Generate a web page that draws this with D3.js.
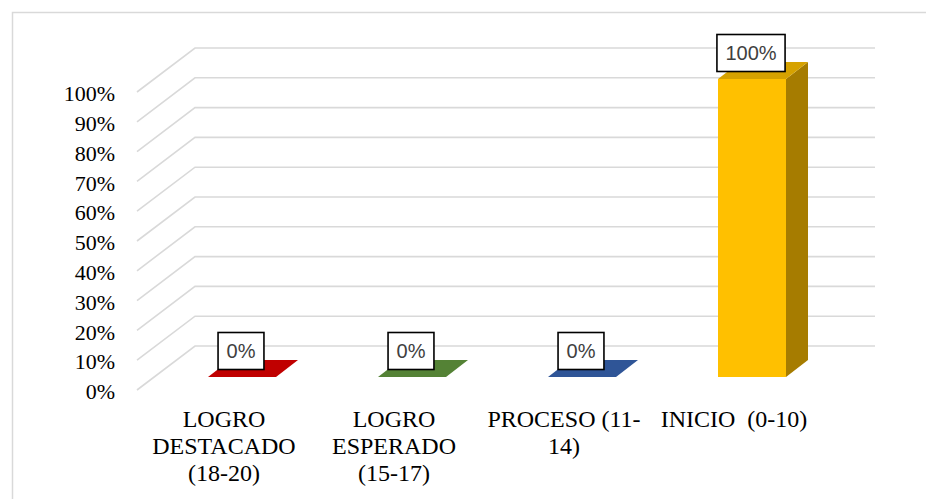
<!DOCTYPE html>
<html>
<head>
<meta charset="utf-8">
<script src="https://cdn.jsdelivr.net/npm/d3@7"></script>
</head>
<body style="margin:0">
<svg id="chart" width="926" height="499"></svg>
<script>
// Nivel de logro: porcentaje de estudiantes por categoría
const categories = ["LOGRO DESTACADO (18-20)", "LOGRO ESPERADO (15-17)", "PROCESO (11-14)", "INICIO  (0-10)"];
const categoryLines = [["LOGRO", "DESTACADO", "(18-20)"], ["LOGRO", "ESPERADO", "(15-17)"], ["PROCESO (11-", "14)"], ["INICIO\u00a0\u00a0(0-10)"]];
const values = [0, 0, 0, 1];
const valueLabels = ["0%", "0%", "0%", "100%"];
const yTicks = [0, 0.1, 0.2, 0.3, 0.4, 0.5, 0.6, 0.7, 0.8, 0.9, 1];

// colours for the front, side and top faces of each column
const frontColors = ["#c00000", "#548235", "#2f5597", "#ffc000"];
const sideColors = ["#8f0000", "#3e6127", "#233f70", "#a67c00"];
const topColors = ["#c00000", "#548235", "#2f5597", "#d6a200"];

const SERIF = '"Liberation Serif", Tinos, "Times New Roman", Times, FreeSerif';
const SANS = '"Liberation Sans", Arimo, Arial';

// advance widths (em) of the sans face, for sizing label boxes without a layout pass
const sansAdvance = ch => (ch === "%" ? 0.889 : 0.556);
const labelWidth = (s, size) => Array.from(s).reduce((w, ch) => w + sansAdvance(ch) * size, 0);

const svg = d3.select("#chart");

// outer chart frame
svg.append("rect")
  .attr("x", 12.5).attr("y", 12.5)
  .attr("width", 940).attr("height", 520)
  .attr("fill", "none").attr("stroke", "#d9d9d9").attr("stroke-width", 1.5);

// 3D projection: back wall values, floor depth offset, column plane offset
const yBack = d3.scaleLinear().domain([0, 1]).range([346, 48]);
const depth = { dx: 58, dy: 44 };          // floor front -> back wall
const barPlane = { dx: 20, dy: 13 };       // floor front -> column front face
const barDepth = { dx: 22, dy: 17 };       // column thickness
const floorX = d3.scaleBand().domain(categories).range([137, 817]).paddingInner(0.6).paddingOuter(0.3);
const wallRight = 875;

const frontY = v => yBack(v) + depth.dy;
const barY = v => yBack(v) + depth.dy - barPlane.dy;

// gridlines: side wall diagonal and back wall horizontal
const grid = svg.append("g");
yTicks.forEach(t => {
  const fy = frontY(t), by = yBack(t);
  const x0 = floorX.range()[0];
  grid.append("path")
    .attr("d", `M${x0},${fy}L${x0 + depth.dx},${by}L${wallRight},${by}`)
    .attr("fill", "none").attr("stroke", "#d9d9d9").attr("stroke-width", 1.6);
});

// y axis labels
const yAxis = d3.axisLeft(d3.scaleLinear().domain([0, 1]).range([frontY(0), frontY(1)]))
  .tickValues(yTicks).tickFormat(d3.format(".0%")).tickSize(0).tickPadding(0);
const yg = svg.append("g").attr("transform", "translate(115,1)").call(yAxis);
yg.attr("font-family", SERIF).attr("font-size", 22);
yg.select(".domain").remove();
yg.selectAll("text").attr("fill", "#000").attr("dy", "0.35em");

// columns
const bars = svg.append("g");
categories.forEach((c, i) => {
  const x0 = floorX(c) + barPlane.dx, x1 = x0 + floorX.bandwidth();
  const yb = barY(0), yt = barY(values[i]);
  const { dx, dy } = barDepth;
  const g = bars.append("g");
  if (yb - yt > 0) {
    g.append("path").attr("d", `M${x1},${yb}L${x1 + dx},${yb - dy}L${x1 + dx},${yt - dy}L${x1},${yt}Z`).attr("fill", sideColors[i]);
    g.append("rect").attr("x", x0).attr("y", yt).attr("width", x1 - x0).attr("height", yb - yt).attr("fill", frontColors[i]);
  }
  g.append("path").attr("d", `M${x0},${yt}L${x1},${yt}L${x1 + dx},${yt - dy}L${x0 + dx},${yt - dy}Z`).attr("fill", topColors[i]);
});

// value labels in boxes
const labelSize = 20;
categories.forEach((c, i) => {
  const cx = floorX(c) + barPlane.dx + floorX.bandwidth() / 2 - 1;
  const cy = barY(values[i]) - 26;
  const w = labelWidth(valueLabels[i], labelSize) + 17;
  const h = 37;
  svg.append("rect")
    .attr("x", cx - w / 2).attr("y", cy - h / 2).attr("width", w).attr("height", h)
    .attr("fill", "#fff").attr("stroke", "#000").attr("stroke-width", 1.6);
  svg.append("text")
    .attr("x", cx).attr("y", cy).attr("dy", "0.36em")
    .attr("text-anchor", "middle")
    .attr("font-family", SANS).attr("font-size", labelSize).attr("fill", "#404040")
    .text(valueLabels[i]);
});

// category labels, one text per line
categories.forEach((c, i) => {
  const cx = floorX(c) + floorX.bandwidth() / 2 + 2;
  categoryLines[i].forEach((line, j) => {
    svg.append("text").attr("x", cx).attr("y", 427 + j * 27)
      .attr("font-family", SERIF).attr("font-size", 24)
      .attr("fill", "#000").attr("text-anchor", "middle")
      .text(line);
  });
});
</script>
</body>
</html>
